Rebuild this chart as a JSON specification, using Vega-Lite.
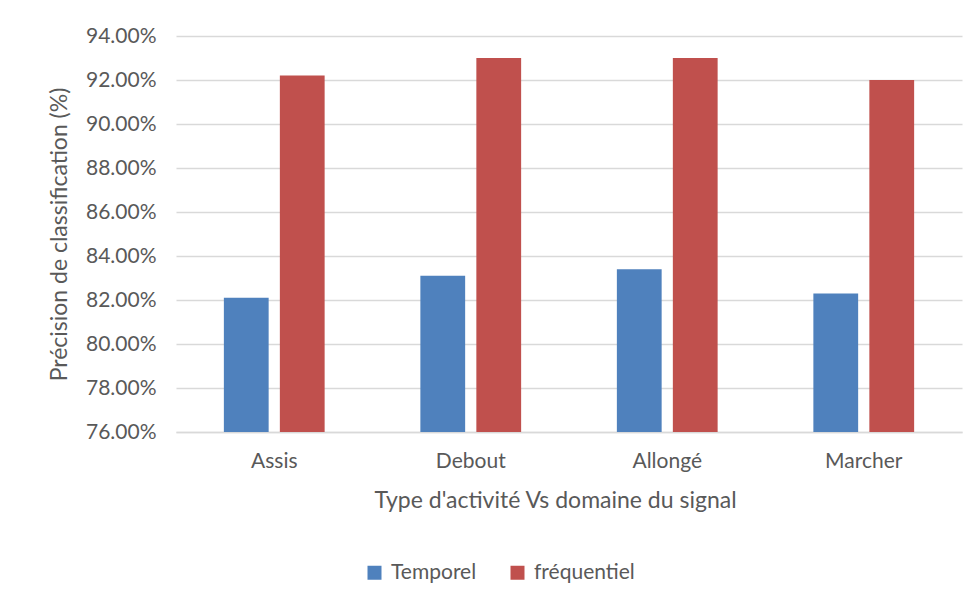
{
  "$schema": "https://vega.github.io/schema/vega-lite/v6.json",
  "autosize": {"type": "none"},
  "width": 786,
  "height": 396,
  "padding": {"left": 176, "top": 36, "right": 17, "bottom": 176},
  "background": "white",
  "config": {"font": "Lato", "view": {"stroke": null}},
  "data": {
    "values": [
      {"activite": "Assis", "domaine": "Temporel", "precision": 0.821},
      {"activite": "Assis", "domaine": "fréquentiel", "precision": 0.922},
      {"activite": "Debout", "domaine": "Temporel", "precision": 0.831},
      {"activite": "Debout", "domaine": "fréquentiel", "precision": 0.930},
      {"activite": "Allongé", "domaine": "Temporel", "precision": 0.834},
      {"activite": "Allongé", "domaine": "fréquentiel", "precision": 0.930},
      {"activite": "Marcher", "domaine": "Temporel", "precision": 0.823},
      {"activite": "Marcher", "domaine": "fréquentiel", "precision": 0.920}
    ]
  },
  "mark": {"type": "bar", "clip": true},
  "encoding": {
    "x": {
      "field": "activite",
      "type": "nominal",
      "sort": ["Assis", "Debout", "Allongé", "Marcher"],
      "scale": {"paddingInner": 0, "paddingOuter": 0},
      "axis": {
        "title": "Type d'activité Vs domaine du signal",
        "labelAngle": 0,
        "ticks": false,
        "domain": true,
        "domainColor": "#D9D9D9",
        "domainWidth": 1.5,
        "labelFontSize": 21,
        "labelColor": "#595959",
        "labelPadding": 18,
        "titleFontSize": 23,
        "titleColor": "#595959",
        "titleFontWeight": "normal",
        "titlePadding": 18,
        "titleX": 379
      }
    },
    "xOffset": {
      "field": "domaine",
      "sort": ["Temporel", "fréquentiel"],
      "scale": {"paddingInner": 0.2, "paddingOuter": 0.855}
    },
    "y": {
      "field": "precision",
      "type": "quantitative",
      "scale": {"domain": [0.76, 0.94], "zero": false, "nice": false},
      "axis": {
        "title": "Précision de classification (%)",
        "format": ".2%",
        "values": [0.76, 0.78, 0.80, 0.82, 0.84, 0.86, 0.88, 0.90, 0.92, 0.94],
        "grid": true,
        "gridColor": "#D9D9D9",
        "gridWidth": 1.5,
        "domain": false,
        "ticks": false,
        "labelFontSize": 21,
        "labelColor": "#595959",
        "labelPadding": 20,
        "titleFontSize": 23,
        "titleColor": "#595959",
        "titleFontWeight": "normal",
        "titlePadding": 14
      }
    },
    "color": {
      "field": "domaine",
      "type": "nominal",
      "sort": ["Temporel", "fréquentiel"],
      "scale": {"domain": ["Temporel", "fréquentiel"], "range": ["#4F81BD", "#C0504D"]},
      "legend": {
        "title": null,
        "orient": "none",
        "legendX": 188,
        "legendY": 526,
        "direction": "horizontal",
        "padding": 0,
        "symbolType": "square",
        "symbolSize": 196,
        "symbolStrokeWidth": 0,
        "labelFontSize": 21,
        "labelColor": "#595959",
        "labelOffset": 6,
        "columnPadding": 30
      }
    }
  }
}
